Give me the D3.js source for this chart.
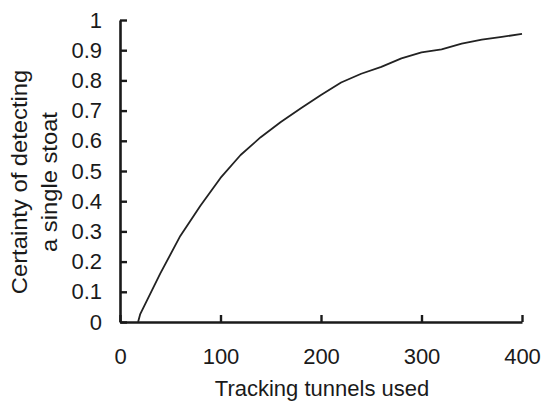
<!DOCTYPE html>
<html>
<head>
<meta charset="utf-8">
<script src="https://cdn.jsdelivr.net/npm/d3@7"></script>
<style>
  html, body { margin: 0; padding: 0; background: #fff; }
  svg { display: block; }
  text { font-family: "Liberation Sans", Arial, Helvetica, sans-serif; fill: #1a1a1a; }
</style>
</head>
<body>
<svg id="chart" width="548" height="402"></svg>
<script>
// Data
const tunnels   = [18, 20, 40, 60, 80, 100, 120, 140, 160, 180, 200, 220, 240, 260, 280, 300, 320, 340, 360, 380, 400];
const certainty = [0, 0.025, 0.16, 0.285, 0.385, 0.477, 0.553, 0.612, 0.662, 0.708, 0.752, 0.793, 0.822, 0.845, 0.873, 0.893, 0.903, 0.922, 0.935, 0.944, 0.954];
const xTicks = [0, 100, 200, 300, 400];
const yTicks = [0, 0.1, 0.2, 0.3, 0.4, 0.5, 0.6, 0.7, 0.8, 0.9, 1];
const xTitle = "Tracking tunnels used";
const yTitleLines = ["Certainty of detecting", "a single stoat"];

const svg = d3.select("#chart");
const x = d3.scaleLinear().domain([0, 400]).range([120, 522]);
const y = d3.scaleLinear().domain([0, 1]).range([322, 20]);

const axisColor = "#1a1a1a";

// X axis
const gx = svg.append("g").attr("transform", `translate(0,${y(0)})`)
  .call(d3.axisBottom(x).tickValues(xTicks).tickFormat(d3.format("d"))
    .tickSizeInner(-7).tickSizeOuter(0).tickPadding(26));
gx.select(".domain").attr("stroke", axisColor).attr("stroke-width", 2.6);
gx.selectAll(".tick line").attr("stroke", axisColor).attr("stroke-width", 2.4);
gx.selectAll(".tick text").attr("font-size", 22).attr("fill", axisColor)
  .attr("font-family", "Liberation Sans, Arial, sans-serif");

// Y axis
const gy = svg.append("g").attr("transform", `translate(${x(0)},0)`)
  .call(d3.axisLeft(y).tickValues(yTicks).tickFormat(d => d === 0 || d === 1 ? String(d) : d3.format(".1f")(d))
    .tickSizeInner(-7).tickSizeOuter(0).tickPadding(18));
gy.select(".domain").attr("stroke", axisColor).attr("stroke-width", 2.6);
gy.selectAll(".tick line").attr("stroke", axisColor).attr("stroke-width", 2.4);
gy.selectAll(".tick text").attr("font-size", 22).attr("fill", axisColor)
  .attr("font-family", "Liberation Sans, Arial, sans-serif");

// Curve
const pts = tunnels.map((t, i) => [t, certainty[i]]);
svg.append("path")
  .datum(pts)
  .attr("fill", "none")
  .attr("stroke", "#222")
  .attr("stroke-width", 1.8)
  .attr("stroke-linejoin", "round")
  .attr("d", d3.line().x(d => x(d[0])).y(d => y(d[1])).curve(d3.curveLinear));

// X title
svg.append("text")
  .attr("x", 322).attr("y", 396)
  .attr("text-anchor", "middle")
  .attr("font-size", 22)
  .text(xTitle);

// Y title (two lines, rotated)
const yt = svg.append("text")
  .attr("transform", "translate(0,182) rotate(-90) scale(1.08,1)")
  .attr("text-anchor", "middle")
  .attr("font-size", 22);
yt.selectAll("tspan").data(yTitleLines).join("tspan")
  .attr("x", 0)
  .attr("y", (d, i) => 27 + i * 30)
  .text(d => d);
</script>
</body>
</html>
